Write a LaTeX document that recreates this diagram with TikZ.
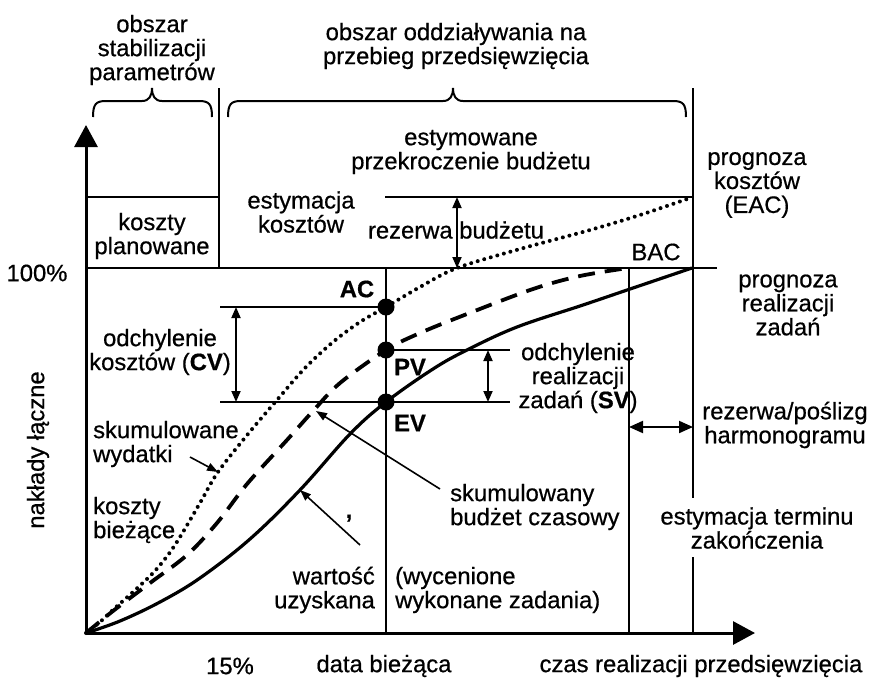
\documentclass[tikz,border=0pt]{standalone}
\usepackage{fontspec}
\setmainfont{Liberation Sans}[FakeBold=0.6]
\usetikzlibrary{arrows.meta}
\newcommand\fs{\fontsize{23.8}{24}\selectfont}
\begin{document}
\begin{tikzpicture}[x=1pt,y=-1pt,
  lbl/.style={inner sep=0pt, align=center, font=\fs},
  axis/.style={line width=3pt, -{Triangle[length=22pt,width=23pt]}},
  thinln/.style={line width=1.6pt},
  midln/.style={line width=2.5pt},
  dbl/.style={line width=1.8pt, {Triangle[length=11pt,width=9pt]}-{Triangle[length=11pt,width=9pt]}},
  dblbig/.style={line width=2pt, {Triangle[length=14pt,width=12pt]}-{Triangle[length=14pt,width=12pt]}},
  ptr/.style={line width=1.6pt, -{Triangle[length=11pt,width=8pt]}},
  brc/.style={line width=2pt},
  crv/.style={line width=3.2pt},
  dotpt/.style={circle, fill=black, inner sep=0pt, minimum size=17pt},
]
\useasboundingbox (0,0) rectangle (870,681);

% axes
\coordinate (O) at (86,633);
\coordinate (Ytop) at (86,125);
\coordinate (Xend) at (755,633);
\draw[axis] (O) -- (Ytop);
\draw[axis] (O) -- (Xend);

% structural lines
\coordinate (h100l) at (86,268);
\coordinate (h100r) at (717,268);
\draw[thinln] (h100l) -- (h100r);
\coordinate (boxl) at (86,197);
\coordinate (boxr) at (219,197);
\draw[midln] (boxl) -- (boxr);
\coordinate (v1t) at (219,88);
\coordinate (v1b) at (219,268);
\draw[thinln] (v1t) -- (v1b);
\coordinate (eacl) at (385,197);
\coordinate (eacr) at (693,197);
\draw[midln] (eacl) -- (eacr);
\coordinate (vrt) at (693,88);
\coordinate (vrg1) at (693,498);
\coordinate (vrg2) at (693,557);
\coordinate (vrb) at (693,633);
\draw[thinln] (vrt) -- (eacr);
\draw[midln] (eacr) -- (vrg1);
\draw[midln] (vrg2) -- (vrb);
\coordinate (vdt) at (386,268);
\coordinate (vdb) at (386,633);
\draw[thinln] (vdt) -- (vdb);
\coordinate (vpt) at (629,268);
\coordinate (vpb) at (629,633);
\draw[thinln] (vpt) -- (vpb);

% points
\node[dotpt] (AC) at (386,307) {};
\node[dotpt] (PV) at (386,350) {};
\node[dotpt] (EV) at (386,402) {};
\coordinate (acl) at (220,307);
\coordinate (evl) at (220,402);
\coordinate (evr) at (510,402);
\coordinate (pvr) at (510,350);
\draw[thinln] (acl) -- (AC.center);
\draw[thinln] (evl) -- (evr);
\draw[thinln] (PV.center) -- (pvr);

% curves
\draw[crv, line width=4pt, line cap=round, dash pattern=on 0pt off 6.8pt]
  plot[smooth, tension=0.55] coordinates {(86,633) (100,622) (115,608) (133,592) (153,573) (168,555) (180,537) (200,503) (218,472) (248,434) (277,400) (305,368) (333,342) (360,322) (386,307) (420,287) (457,268) (520,249) (590,230) (640,215) (690,198)};
\draw[crv, line width=3.8pt, dash pattern=on 17pt off 10pt]
  plot[smooth, tension=0.55] coordinates {(86,633) (113,611) (150,583) (187,555) (217,523) (247,484) (287,440) (313,411) (340,383) (386,350) (420,333) (467,314) (533,289) (580,276) (628,268)};
\draw[crv]
  plot[smooth, tension=0.6] coordinates {(86,633) (120,621) (160,602) (200,578) (250,539) (300,490) (350,434) (386,402) (433,369) (467,350) (517,327) (583,305) (633,288) (692,268)};

% braces
\draw[brc] (93,117) .. controls (93,104) and (96,101) .. (106,101) -- (142,101)
  .. controls (149,101) and (152,96) .. (152,88) .. controls (152,96) and (155,101) .. (162,101)
  -- (199,101) .. controls (209,101) and (212,104) .. (212,117);
\draw[brc] (228,117) .. controls (228,104) and (231,101) .. (241,101) -- (443,101)
  .. controls (450,101) and (453,96) .. (453,88) .. controls (453,96) and (456,101) .. (463,101)
  -- (673,101) .. controls (683,101) and (686,104) .. (686,117);

% double arrows
\coordinate (cvt) at (236,307);
\coordinate (cvb) at (236,402);
\draw[dbl] (cvt) -- (cvb);
\coordinate (svt) at (488,350);
\coordinate (svb) at (488,402);
\draw[dbl] (svt) -- (svb);
\coordinate (rbt) at (457,197);
\coordinate (rbb) at (457,268);
\draw[dbl] (rbt) -- (rbb);
\coordinate (rhl) at (629,427);
\coordinate (rhr) at (693,427);
\draw[dblbig] (rhl) -- (rhr);

% pointer arrows
\coordinate (p1s) at (190,457);
\coordinate (p1e) at (218,472);
\draw[ptr] (p1s) -- (p1e);
\coordinate (p2s) at (360,545);
\coordinate (p2e) at (300,490);
\draw[ptr] (p2s) -- (p2e);
\coordinate (p3s) at (440,489);
\coordinate (p3e) at (316,411);
\draw[ptr] (p3s) -- (p3e);

% labels
\node[lbl] (t1) at (152,50) {obszar\\stabilizacji\\parametrów};
\node[lbl] (t2) at (456,46) {obszar oddziaływania na\\przebieg przedsięwzięcia};
\node[lbl] (t3) at (152,236) {koszty\\planowane};
\node[lbl] (t4) at (301,212) {estymacja\\kosztów};
\node[lbl] (t5) at (471,152) {estymowane\\przekroczenie budżetu};
\node[lbl] (t6) at (456,230) {rezerwa budżetu};
\node[lbl] (t7) at (757,185) {prognoza\\kosztów\\(EAC)};
\node[lbl] (t8) at (656,252) {BAC};
\node[lbl] (t9) at (37,273) {100\%};
\node[lbl, font=\fs\bfseries] (tac) at (357,289) {AC};
\node[lbl, font=\fs\bfseries] (tpv) at (410,367) {PV};
\node[lbl, font=\fs\bfseries] (tev) at (410,423) {EV};
\node[lbl] (t10) at (160,352) {odchylenie\\kosztów (\textbf{CV})};
\node[lbl] (t11) at (578,378) {odchylenie\\realizacji\\zadań (\textbf{SV})};
\node[lbl] (t12) at (788,305) {prognoza\\realizacji\\zadań};
\node[lbl] (t13) at (785,425) {rezerwa/poślizg\\harmonogramu};
\node[lbl, align=left, anchor=west] (t14) at (93,444) {skumulowane\\wydatki};
\node[lbl, align=left, anchor=west] (t15) at (93,520) {koszty\\bieżące};
\node[lbl, align=right, anchor=east] (t16) at (375,590) {wartość\\uzyskana};
\node[lbl, align=left, anchor=west] (t17) at (395,590) {(wycenione\\wykonane zadania)};
\node[lbl, align=left, anchor=west] (t18) at (450,507) {skumulowany\\budżet czasowy};
\node[lbl] (t19) at (757,528) {estymacja terminu\\zakończenia};
\node[lbl, rotate=90] (t20) at (38,450) {nakłady łączne};
\node[lbl] (t21) at (230,666) {15\%};
\node[lbl] (t22) at (384,666) {data bieżąca};
\node[lbl] (t23) at (701,666) {czas realizacji przedsięwzięcia};
\node[lbl, font=\fs\bfseries] (t24) at (349,523) {’};
\end{tikzpicture}
\end{document}
